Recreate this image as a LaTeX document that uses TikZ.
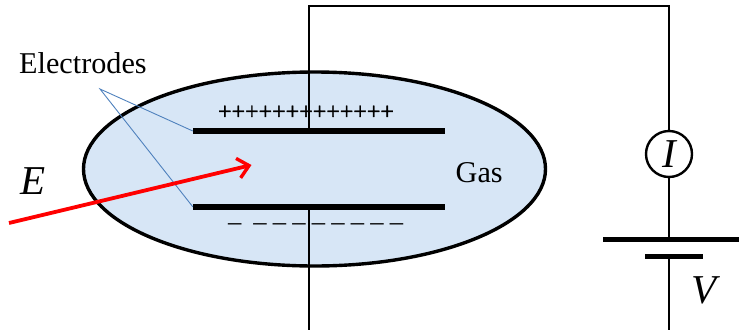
\documentclass[tikz,border=0pt]{standalone}
\usepackage{fontspec}
\setmainfont{Liberation Serif}
\usetikzlibrary{arrows.meta,shapes.geometric}
\definecolor{gasfill}{HTML}{D7E6F6}
\definecolor{leader}{HTML}{4F81BD}
\tikzset{
  wire/.style={draw=black,line width=2pt},
  plate/.style={fill=black,inner sep=0pt,minimum height=5.5pt,draw=none},
  lbl/.style={inner sep=0pt,font=\fontsize{30.2}{30}\selectfont},
  sym/.style={inner sep=0pt,font=\fontsize{41}{41}\selectfont\itshape},
  charges/.style={inner sep=0pt,font=\fontsize{24}{24}\selectfont},
  minuses/.style={inner sep=0pt,font=\fontsize{26.6}{26}\selectfont},
}
\begin{document}
\begin{tikzpicture}[x=1pt,y=-1pt]
\useasboundingbox (0,0) rectangle (739,330);
\node[draw=black,line width=3.4pt,fill=gasfill,ellipse,inner sep=0pt,minimum width=462pt,minimum height=194pt] (gas) at (314.5,169) {};
\node[plate,minimum width=252pt] (top) at (319,131) {};
\node[plate,minimum width=252pt] (bot) at (319,206.8) {};
\node[plate,minimum width=136pt] (batA) at (671,239.5) {};
\node[plate,minimum width=58pt] (batB) at (674,256.5) {};
\node[circle,draw=black,line width=2.4pt,minimum size=46pt,inner sep=0pt,sym] (meter) at (669,154) {I};
\coordinate (corA) at (309,6);
\coordinate (corB) at (669,6);
\coordinate (topJ) at (309,130);
\coordinate (botJ) at (309,206);
\coordinate (botEnd) at (309,330);
\coordinate (batJA) at (669,239);
\coordinate (batJB) at (669,256);
\coordinate (batEnd) at (669,330);
\draw[wire] (topJ) -- (corA) -- (corB) -- (meter.north);
\draw[wire] (meter.south) -- (batJA);
\draw[wire] (batJB) -- (batEnd);
\draw[wire] (botJ) -- (botEnd);
\coordinate (fan) at (100,89);
\draw[leader,line width=0.9pt] (top.west) -- (fan) -- (bot.west);
\coordinate (rayA) at (9,223);
\coordinate (rayB) at (251.5,165);
\draw[red,line width=3.8pt,-{Straight Barb[length=11pt,width=20pt,line width=3.4pt]}] (rayA) -- (rayB);
\node[lbl,anchor=base west] (elec) at (19,73) {Electrodes};
\node[lbl,anchor=base west] (gasl) at (455.5,182) {Gas};
\node[sym,anchor=base west] (e) at (20,194) {E};
\node[sym,anchor=base west] (v) at (691,303) {V};
\node[charges] (plus) at (306,112.5) {\addfontfeatures{FakeBold=1.5}+++++++++++++};
\node[minuses,anchor=west] (minus) at (228,227.5) {–\hspace{12pt}–\hspace{6.2pt}–\hspace{6.2pt}–\hspace{6.2pt}–\hspace{6.2pt}–\hspace{6.2pt}–\hspace{6.2pt}–\hspace{6.2pt}–};
\end{tikzpicture}
\end{document}
